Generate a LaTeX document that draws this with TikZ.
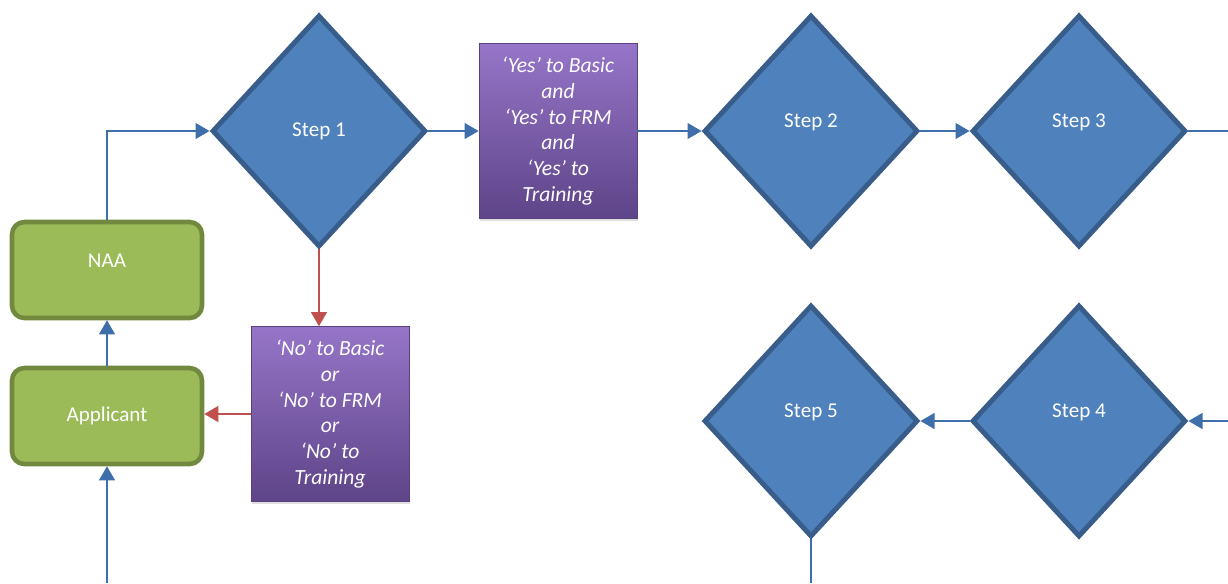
\documentclass[tikz,border=0pt]{standalone}
\usepackage{fontspec}
\setmainfont{Carlito}
\usetikzlibrary{shapes.geometric,arrows.meta,shadows}

\definecolor{stepblue}{HTML}{4F81BD}
\definecolor{stepedge}{HTML}{385D8A}
\definecolor{boxgreen}{HTML}{9BBB59}
\definecolor{boxedge}{HTML}{71893F}
\definecolor{linkblue}{HTML}{3F6FAA}
\definecolor{linkred}{HTML}{C0504D}
\definecolor{purpletop}{HTML}{9675C8}
\definecolor{purplebot}{HTML}{5E4488}
\definecolor{purpleedge}{HTML}{5A4180}

\begin{document}
\begin{tikzpicture}[x=0.02cm, y=-0.02cm,
  stepbox/.style={diamond, draw=stepedge, line width=2.8pt, fill=stepblue,
    minimum width=4.28cm, minimum height=4.64cm, inner sep=0pt},
  steptext/.style={text=white, font=\fontsize{12}{14}\selectfont},
  party/.style={rectangle, rounded corners=7pt, draw=boxedge, line width=2.6pt,
    fill=boxgreen, minimum width=3.8cm, minimum height=1.92cm, inner sep=0pt},
  answer/.style={rectangle, draw=purpleedge, line width=0.4pt,
    top color=purpletop, bottom color=purplebot,
    drop shadow={opacity=0.25, shadow xshift=0.5pt, shadow yshift=-1.5pt},
    minimum width=3.16cm, minimum height=3.5cm, inner sep=0pt,
    text=white, align=center, font=\fontsize{12.3}{14.7}\selectfont\itshape},
  link/.style={draw=linkblue, line width=1pt, -{Triangle[length=8pt,width=9pt]}},
  nolink/.style={draw=linkred, line width=1pt, -{Triangle[length=8pt,width=9pt]}}]
  \useasboundingbox (0,0) rectangle (1228,583);

  % Applicant and NAA
  \node[party] (naa) at (107,270) {};
  \node[steptext] at ([yshift=5.5pt]naa.center) {NAA};
  \node[party, steptext] (app) at (107,416) {Applicant};

  % Decision steps
  \node[stepbox] (s1) at (319,131) {};
  \node[steptext] at (s1.center) {Step 1};
  \foreach \nm/\x/\y/\lbl in {s2/811/131/Step 2, s3/1079/131/Step 3,
                              s4/1079/421/Step 4, s5/811/421/Step 5} {
    \node[stepbox] (\nm) at (\x,\y) {};
    \node[steptext] at ([yshift=5pt]\nm.center) {\lbl};
  }

  % Answers
  \node[answer] (yes) at (558,131) {‘Yes’ to Basic\\and\\‘Yes’ to FRM\\and\\‘Yes’ to\\Training};
  \node[answer] (no) at (330,414) {‘No’ to Basic\\or\\‘No’ to FRM\\or\\‘No’ to\\Training};

  % Loose ends at the border
  \coordinate (inbot) at (107,583);
  \coordinate (outtop) at (1228,131);
  \coordinate (inright) at (1228,421);
  \coordinate (outbot) at (811,583);

  % Connectors
  \draw[link] (inbot) -- (app.south);
  \draw[link] (app.north) -- (naa.south);
  \draw[link] (naa.north) |- (s1.west);
  \draw[link] (s1.east) -- (yes.west);
  \draw[link] (yes.east) -- (s2.west);
  \draw[link] (s2.east) -- (s3.west);
  \draw[link, -] (s3.east) -- (outtop);
  \draw[link] (inright) -- (s4.east);
  \draw[link] (s4.west) -- (s5.east);
  \draw[link, -] (s5.south) -- (outbot);
  \draw[nolink] (s1.south) -- (s1.south |- no.north);
  \draw[nolink] (no.west) -- (no.west -| app.east);
\end{tikzpicture}
\end{document}
